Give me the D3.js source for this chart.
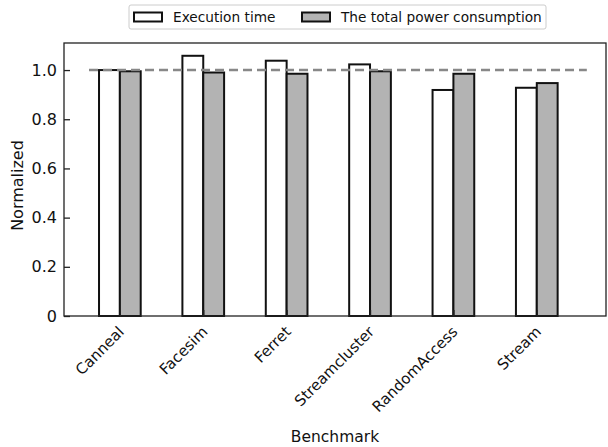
<!DOCTYPE html>
<html>
<head>
<meta charset="utf-8">
<script src="https://cdn.jsdelivr.net/npm/d3@7"></script>
<style>
  body { margin: 0; background: #fff; }
  text { font-family: "DejaVu Sans", sans-serif; }
</style>
</head>
<body>
<div id="canvas"></div>
<script>
const benchmarks = ["Canneal", "Facesim", "Ferret", "Streamcluster", "RandomAccess", "Stream"];
const execTime = [1.0, 1.058, 1.038, 1.023, 0.919, 0.928];
const powerUse = [0.995, 0.99, 0.985, 0.995, 0.985, 0.947];
const yTicks = [0, 0.2, 0.4, 0.6, 0.8, 1.0];
const seriesNames = ["Execution time", "The total power consumption"];

const width = 608;
const height = 447;
const margin = { top: 43, left: 64, bottom: 131, right: 2 };
const iwidth = width - margin.left - margin.right;
const iheight = height - margin.top - margin.bottom;

const svg = d3.select("#canvas").append("svg")
  .attr("width", width)
  .attr("height", height);

const g = svg.append("g").attr("transform", `translate(${margin.left},${margin.top})`);

const x = d3.scaleLinear()
  .domain([-0.67, benchmarks.length - 0.17])
  .range([0, iwidth]);

const y = d3.scaleLinear()
  .domain([0, 1.11])
  .range([iheight, 0]);

const barW = x(0.25) - x(0);

// bars
const groups = g.selectAll(".grp").data(benchmarks).enter().append("g");
groups.append("rect")
  .attr("x", (d, i) => x(i) - barW)
  .attr("y", (d, i) => y(execTime[i]))
  .attr("width", barW)
  .attr("height", (d, i) => iheight - y(execTime[i]))
  .style("fill", "#fff")
  .style("stroke", "#111")
  .style("stroke-width", 2);
groups.append("rect")
  .attr("x", (d, i) => x(i))
  .attr("y", (d, i) => y(powerUse[i]))
  .attr("width", barW)
  .attr("height", (d, i) => iheight - y(powerUse[i]))
  .style("fill", "#b3b3b3")
  .style("stroke", "#111")
  .style("stroke-width", 2);

// reference line at 1.0
g.append("line")
  .attr("x1", x(-0.37)).attr("x2", x(5.6))
  .attr("y1", y(1)).attr("y2", y(1))
  .style("stroke", "#888")
  .style("stroke-width", 2.5)
  .style("stroke-dasharray", "9,5");

// frame
g.append("rect")
  .attr("width", iwidth).attr("height", iheight)
  .style("fill", "none")
  .style("stroke", "#222")
  .style("stroke-width", 1.3);

// y axis
const yAxis = g.append("g")
  .call(d3.axisLeft(y).tickValues(yTicks).tickSizeInner(-6).tickSizeOuter(0).tickPadding(7)
    .tickFormat(d => d === 0 ? "0" : d3.format(".1f")(d)));
yAxis.select(".domain").remove();
yAxis.selectAll("text").style("font-size", "16px").style("fill", "#111");
yAxis.selectAll("line").style("stroke", "#222").style("stroke-width", 1.3);

// x axis
const xAxis = g.append("g")
  .attr("transform", `translate(0,${iheight})`)
  .call(d3.axisBottom(x).tickValues(d3.range(benchmarks.length)).tickSizeInner(-6).tickSizeOuter(0)
    .tickFormat((d, i) => benchmarks[i]));
xAxis.select(".domain").remove();
xAxis.selectAll("line").style("stroke", "#222").style("stroke-width", 1.3);
xAxis.selectAll("text")
  .style("font-size", "15px").style("fill", "#111")
  .attr("text-anchor", "end")
  .attr("y", 0)
  .attr("dy", "0.35em")
  .attr("transform", "translate(1,13) rotate(-45)");

// axis labels
svg.append("text")
  .attr("x", 335).attr("y", 442)
  .attr("text-anchor", "middle")
  .style("font-size", "15.5px").style("fill", "#111")
  .text("Benchmark");
svg.append("text")
  .attr("transform", `translate(23,${margin.top + iheight / 2 + 6}) rotate(-90)`)
  .attr("text-anchor", "middle")
  .style("font-size", "16px").style("fill", "#111")
  .text("Normalized");

// legend
const legend = svg.append("g");
legend.append("rect")
  .attr("x", 129).attr("y", 5).attr("width", 417).attr("height", 24).attr("rx", 2)
  .style("fill", "#fff").style("stroke", "#ccc").style("stroke-width", 1);
const legX = [134, 302];
const legFill = ["#fff", "#b3b3b3"];
seriesNames.forEach((name, i) => {
  legend.append("rect")
    .attr("x", legX[i]).attr("y", 12.5).attr("width", 28).attr("height", 9)
    .style("fill", legFill[i]).style("stroke", "#111").style("stroke-width", 2);
  legend.append("text")
    .attr("x", legX[i] + 39).attr("y", 22)
    .style("font-size", "13.7px").style("fill", "#111")
    .text(name);
});
</script>
</body>
</html>
